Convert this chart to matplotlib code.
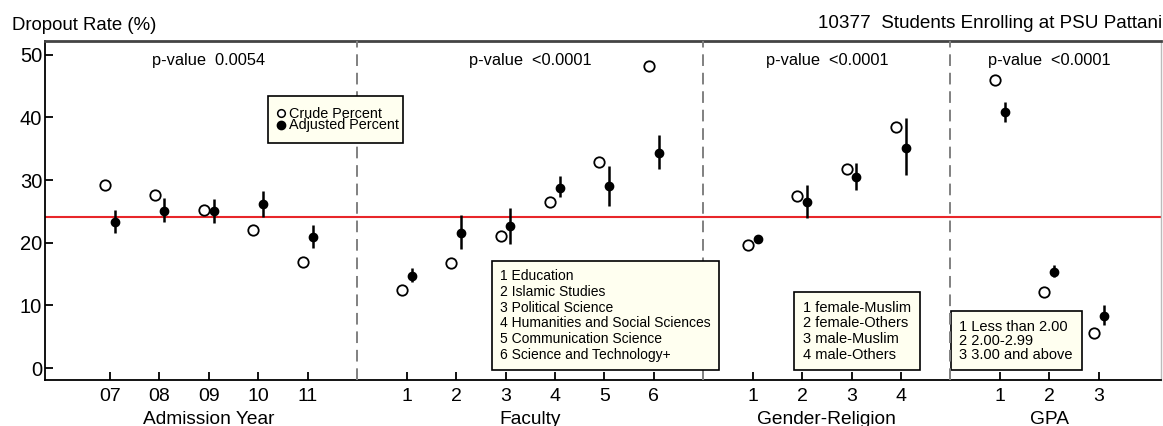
import numpy as np
import matplotlib.pyplot as plt
import matplotlib.transforms as mtransforms
from matplotlib.patches import Rectangle

plt.rcParams['font.family'] = ['Liberation Sans', 'DejaVu Sans']

# group labels / categories
group_names = ['Admission Year', 'Faculty', 'Gender-Religion', 'GPA']
year_labels = ['07', '08', '09', '10', '11']
faculty_labels = ['1', '2', '3', '4', '5', '6']
gender_labels = ['1', '2', '3', '4']
gpa_labels = ['1', '2', '3']
p_values = ['p-value  0.0054', 'p-value  <0.0001', 'p-value  <0.0001', 'p-value  <0.0001']

faculty_names = ['1 Education', '2 Islamic Studies', '3 Political Science',
                 '4 Humanities and Social Sciences', '5 Communication Science',
                 '6 Science and Technology+']
gender_names = ['1 female-Muslim', '2 female-Others', '3 male-Muslim', '4 male-Others']
gpa_names = ['1 Less than 2.00', '2 2.00-2.99', '3 3.00 and above']
legend_names = ['Crude Percent', 'Adjusted Percent']

# values, in order year, faculty, gender, gpa
crude = [29.2, 27.6, 25.2, 22.1, 17.0,
         12.5, 16.7, 21.0, 26.5, 32.9, 48.2,
         19.7, 27.5, 31.8, 38.4,
         46.0, 12.2, 5.6]
adjusted = [23.3, 25.1, 25.0, 26.1, 20.9,
            14.7, 21.5, 22.6, 28.8, 29.0, 34.3,
            20.6, 26.5, 30.5, 35.1,
            40.8, 15.4, 8.3]
ci_low = [21.5, 23.3, 23.1, 24.1, 19.2,
          13.7, 19.0, 19.8, 27.3, 25.9, 31.7,
          20.0, 24.0, 28.4, 30.8,
          39.2, 14.6, 6.9]
ci_high = [25.2, 27.2, 27.0, 28.3, 22.8,
           16.0, 24.4, 25.6, 30.6, 32.3, 37.2,
           21.2, 29.2, 32.7, 39.9,
           42.5, 16.5, 10.1]
overall_rate = 24.1

# x positions: one empty slot between groups
groups = [year_labels, faculty_labels, gender_labels, gpa_labels]
xpos, xlabels, centers, dividers = [], [], [], []
p = 1
for g in groups:
    start = p
    for lab in g:
        xpos.append(p)
        xlabels.append(lab)
        p += 1
    centers.append((start + p - 1) / 2)
    dividers.append(p)
    p += 1
dividers = dividers[:-1]
xpos = np.array(xpos, dtype=float)

crude = np.array(crude)
adjusted = np.array(adjusted)
yerr = [adjusted - np.array(ci_low), np.array(ci_high) - adjusted]

fig = plt.figure(figsize=(11.63, 4.26), dpi=100)
ax = fig.add_axes([0.0387, 0.108, 0.96, 0.796])

ax.axhline(overall_rate, color='#e8262a', lw=1.5, zorder=1)
for d in dividers:
    ax.axvline(d, color='#808080', lw=1.4, ls=(0, (6, 3.5)), zorder=4)

ax.plot(xpos - 0.1, crude, 'o', mfc='white', mec='black', ms=7.5, mew=1.3, zorder=3)
ax.errorbar(xpos + 0.1, adjusted, yerr=yerr, fmt='o', color='black', ms=6,
            elinewidth=1.8, capsize=0, zorder=3)

ax.set_xlim(-0.316, 22.27)
ax.set_ylim(-1.9, 52.2)
ax.set_xticks(xpos)
ax.set_xticklabels(xlabels, fontsize=14)
ax.set_yticks([0, 10, 20, 30, 40, 50])
ax.set_yticklabels(['0', '10', '20', '30', '40', '50'], fontsize=14.5)
ax.tick_params(direction='in', length=6, width=1.3)
ax.tick_params(axis='x', pad=6)
ax.tick_params(axis='y', pad=2)

ax.spines['top'].set_color('#444444')
ax.spines['top'].set_linewidth(2)
ax.spines['right'].set_color('#bbbbbb')
ax.spines['right'].set_linewidth(1)
ax.spines['left'].set_linewidth(1.3)
ax.spines['bottom'].set_linewidth(1.3)

trans = mtransforms.blended_transform_factory(ax.transData, ax.transAxes)
for c, name, pv in zip(centers, group_names, p_values):
    ax.text(c, -0.09, name, transform=trans, ha='center', va='top', fontsize=13.75)
    ax.text(c, 49, pv, ha='center', va='center', fontsize=11.8)

# legend box drawn by hand (rows sit very close together in the original)
ax.add_patch(Rectangle((0.1997, 0.699), 0.1209, 0.139, transform=ax.transAxes,
                       fc='#fffff0', ec='black', lw=1.2, zorder=5))
ax.text(0.2185, 0.768, '\n'.join(legend_names), transform=ax.transAxes,
        ha='left', va='center', fontsize=10.4, linespacing=0.74, zorder=6)
ax.plot([0.2114], [0.7876], 'o', transform=ax.transAxes, mfc='white', mec='black',
        ms=5.5, mew=1.1, clip_on=False, zorder=6)
ax.plot([0.2114], [0.752], 'o', transform=ax.transAxes, color='black',
        ms=6, clip_on=False, zorder=6)

box = dict(boxstyle='square,pad=0.6', fc='#fffff0', ec='black', lw=1.2)
ax.text(0.4078, 0.054, '\n'.join(faculty_names), transform=ax.transAxes,
        ha='left', va='bottom', fontsize=10, linespacing=1.15, bbox=box, zorder=5)
ax.text(0.679, 0.054, '\n'.join(gender_names), transform=ax.transAxes,
        ha='left', va='bottom', fontsize=10.5, linespacing=1.15, bbox=box, zorder=5)
ax.text(0.819, 0.054, '\n'.join(gpa_names), transform=ax.transAxes,
        ha='left', va='bottom', fontsize=10.5, linespacing=1.0, bbox=box, zorder=3)

fig.text(12 / 1163, 1 - 25 / 426, 'Dropout Rate (%)', va='center', fontsize=13.4)
fig.text(0.999, 1 - 23 / 426, '10377  Students Enrolling at PSU Pattani',
         ha='right', va='center', fontsize=13.6)

fig.savefig('out.png', dpi=100)
